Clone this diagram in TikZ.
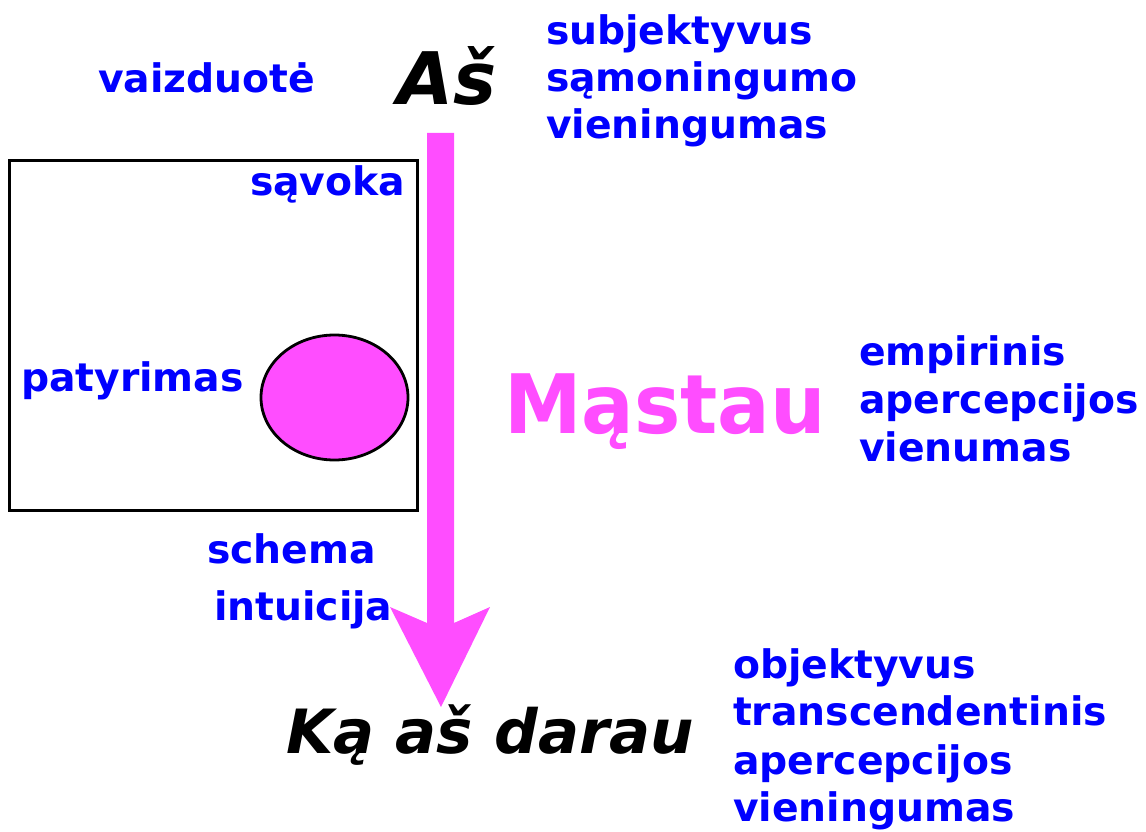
\documentclass[tikz,border=0pt]{standalone}
\usepackage{fontspec}
\setmainfont{DejaVu Sans}
\newfontfamily\mastaufont[FakeStretch=0.95]{DejaVu Sans}
\usetikzlibrary{calc}
\definecolor{pinkc}{RGB}{255,77,255}
\definecolor{bluec}{RGB}{0,0,255}
\begin{document}
\begin{tikzpicture}[x=1pt,y=-1pt,
  lbl/.style={anchor=base west, inner sep=0pt, outer sep=0pt, text=bluec,
    font=\fontsize{39.3}{46}\selectfont\bfseries},
  big/.style={anchor=base west, inner sep=0pt, outer sep=0pt}]
\useasboundingbox (0,0) rectangle (1146,832);
% frame and ellipse
\draw[line width=3pt] (9,161) rectangle (417,510);
\draw[line width=2.8pt, fill=pinkc] (334.5,397.5) ellipse [x radius=73.5, y radius=62.5];
% arrow
\coordinate (atop) at (440.5,133);
\coordinate (atip) at (441,707);
\fill[pinkc] ($(atop)+(-13.5,0)$) -- ($(atop)+(13.5,0)$) -- (454,623) -- (490,607) -- (atip) -- (390,607) -- (427,623) -- cycle;
% black texts
\node[big, font=\fontsize{72.5}{80}\selectfont\bfseries\itshape] (as) at (397,105) {Aš};
\node[big, font=\fontsize{61}{66}\selectfont\bfseries\itshape] (ka) at (286,753) {Ką aš darau};
\node[big, text=pinkc, font=\fontsize{82}{90}\mastaufont\bfseries] (mastau) at (504,433) {Mąstau};
% blue labels
\node[lbl] (vaiz) at (98,93) {vaizduotė};
\node[lbl] (subj1) at (546,45) {subjektyvus};
\node[lbl] (subj2) at (546,92) {sąmoningumo};
\node[lbl] (subj3) at (546,139) {vieningumas};
\node[lbl] (sav) at (250,195) {sąvoka};
\node[lbl] (pat) at (21,391) {patyrimas};
\node[lbl] (emp1) at (859,365) {empirinis};
\node[lbl] (emp2) at (859,413) {apercepcijos};
\node[lbl] (emp3) at (859,461) {vienumas};
\node[lbl] (sch) at (207,563) {schema};
\node[lbl] (intu) at (214,620) {intuicija};
\node[lbl] (obj1) at (733,678) {objektyvus};
\node[lbl] (obj2) at (733,725) {transcendentinis};
\node[lbl] (obj3) at (733,774) {apercepcijos};
\node[lbl] (obj4) at (733,821) {vieningumas};
\end{tikzpicture}
\end{document}
